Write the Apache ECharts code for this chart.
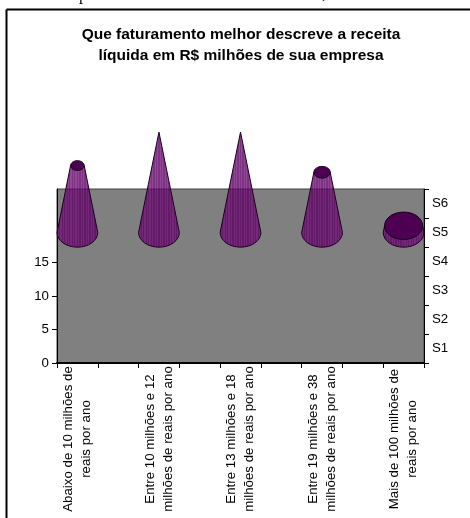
<!DOCTYPE html>
<html>
<head>
<meta charset="utf-8">
<style>html,body{margin:0;padding:0;background:#fff}#chart{width:470px;height:518px}</style>
<script src="https://cdn.jsdelivr.net/npm/echarts@6/dist/echarts.min.js"></script>
</head>
<body>
<div id="chart"></div>
<script>
// Revenue bands: every other slot on the category axis is left empty.
const categories = [
  'Abaixo de 10 milhões de\nreais por ano', '',
  'Entre 10 milhões e 12\nmilhões de reais por ano', '',
  'Entre 13 milhões e 18\nmilhões de reais por ano', '',
  'Entre 19 milhões e 38\nmilhões de reais por ano', '',
  'Mais de 100 milhões de\nreais por ano'
];
const responses = [10, null, 15, null, 15, null, 9, null, 1];
const depthSeries = ['S1', 'S2', 'S3', 'S4', 'S5', 'S6'];
const valueTicks = [0, 5, 10, 15];
const titleText = 'Que faturamento melhor descreve a receita\nlíquida em R$ milhões de sua empresa';

const FONT = '"Liberation Sans", Arial, sans-serif';
const SERIF = '"Liberation Serif", serif';
// The populated series sits on the S5 row of the depth axis, expressed in value units.
const DEPTH_OFFSET = 19.5;
const ELLIPSE_RATIO = 0.72;
const peak = Math.max(...responses.filter(v => v !== null));

// Fine vertical ribbing of the cone surface.
function ribbedFill() {
  const stops = [];
  const ribs = 33;
  for (let i = 0; i < ribs; i++) {
    const c = i % 2 ? 'rgba(112,14,118,0.76)' : 'rgba(92,0,98,0.80)';
    stops.push({ offset: i / ribs, color: c }, { offset: (i + 1) / ribs, color: c });
  }
  return new echarts.graphic.LinearGradient(0, 0, 1, 0, stops);
}

function renderCone(params, api) {
  const value = api.value(1);
  if (value === null || isNaN(value)) return null;
  const base = api.coord([api.value(0), DEPTH_OFFSET]);
  const top = api.coord([api.value(0), DEPTH_OFFSET + value]);
  const rx = api.size([1, 0])[0] * 0.5;
  const ry = rx * ELLIPSE_RATIO;
  const rt = rx * (1 - value / peak);
  const cx = base[0];
  const d = `M${cx - rx} ${base[1]} L${cx - rt} ${top[1]} L${cx + rt} ${top[1]} L${cx + rx} ${base[1]} ` +
            `A${rx} ${ry} 0 0 1 ${cx - rx} ${base[1]} Z`;
  const children = [{
    type: 'path',
    shape: { pathData: d, layout: 'cover', x: cx - rx, y: top[1], width: 2 * rx, height: base[1] + ry - top[1] },
    style: { fill: ribbedFill(), stroke: '#1c0020', lineWidth: 1 }
  }];
  if (rt > 0) {
    children.push({
      type: 'ellipse',
      shape: { cx, cy: top[1], rx: rt, ry: rt * ELLIPSE_RATIO },
      style: { fill: '#4d0052', stroke: '#14001a', lineWidth: 1 }
    });
  }
  return { type: 'group', children };
}

const chart = echarts.init(document.getElementById('chart'), null, { renderer: 'canvas' });
chart.setOption({
  animation: false,
  backgroundColor: '#fff',
  title: {
    text: titleText,
    left: 236,
    top: 19,
    textAlign: 'center',
    textStyle: { fontFamily: FONT, fontSize: 15.5, fontWeight: 'bold', color: '#000', lineHeight: 21 }
  },
  grid: {
    left: 57, right: 46, top: 189, bottom: 155,
    show: true, backgroundColor: '#808080', borderColor: '#404040', borderWidth: 1
  },
  xAxis: {
    type: 'category',
    data: categories,
    axisLine: { lineStyle: { color: '#000', width: 2 } },
    axisTick: { show: true, length: 5, lineStyle: { color: '#000' }, interval: 0 },
    axisLabel: {
      interval: 0, rotate: 90, align: 'center', verticalAlign: 'middle', margin: 76,
      color: '#000', fontFamily: FONT, fontSize: 13.3, lineHeight: 18, hideOverlap: false
    }
  },
  yAxis: [{
    type: 'value', min: 0, max: 26, position: 'left',
    splitLine: { show: false },
    axisLine: { show: true, lineStyle: { color: '#000' } },
    axisTick: { show: true, length: 5, lineStyle: { color: '#000' }, customValues: valueTicks },
    axisLabel: { color: '#000', fontFamily: FONT, fontSize: 13.3, margin: 8, customValues: valueTicks }
  }, {
    type: 'category', position: 'right', data: depthSeries,
    axisLine: { show: true, lineStyle: { color: '#000' } },
    axisTick: { show: true, length: 5, lineStyle: { color: '#000' } },
    axisLabel: { color: '#000', fontFamily: FONT, fontSize: 13.3, margin: 8 }
  }],
  series: [{
    type: 'custom',
    xAxisIndex: 0,
    yAxisIndex: 0,
    clip: false,
    z: 5,
    renderItem: renderCone,
    encode: { x: 0, y: 1 },
    data: responses.map((v, i) => [i, v])
  }],
  graphic: [
    { type: 'line', shape: { x1: 6.5, y1: 9.5, x2: 470, y2: 9.5 }, style: { stroke: '#000', lineWidth: 2 } },
    { type: 'line', shape: { x1: 6.5, y1: 9.5, x2: 6.5, y2: 518 }, style: { stroke: '#000', lineWidth: 2 } },
    { type: 'text', x: 79, y: -12, style: { text: 'p', fill: '#000', font: '16px ' + SERIF } },
    { type: 'text', x: 322, y: -13, style: { text: ',', fill: '#000', font: '16px ' + SERIF } }
  ]
});
</script>
</body>
</html>
